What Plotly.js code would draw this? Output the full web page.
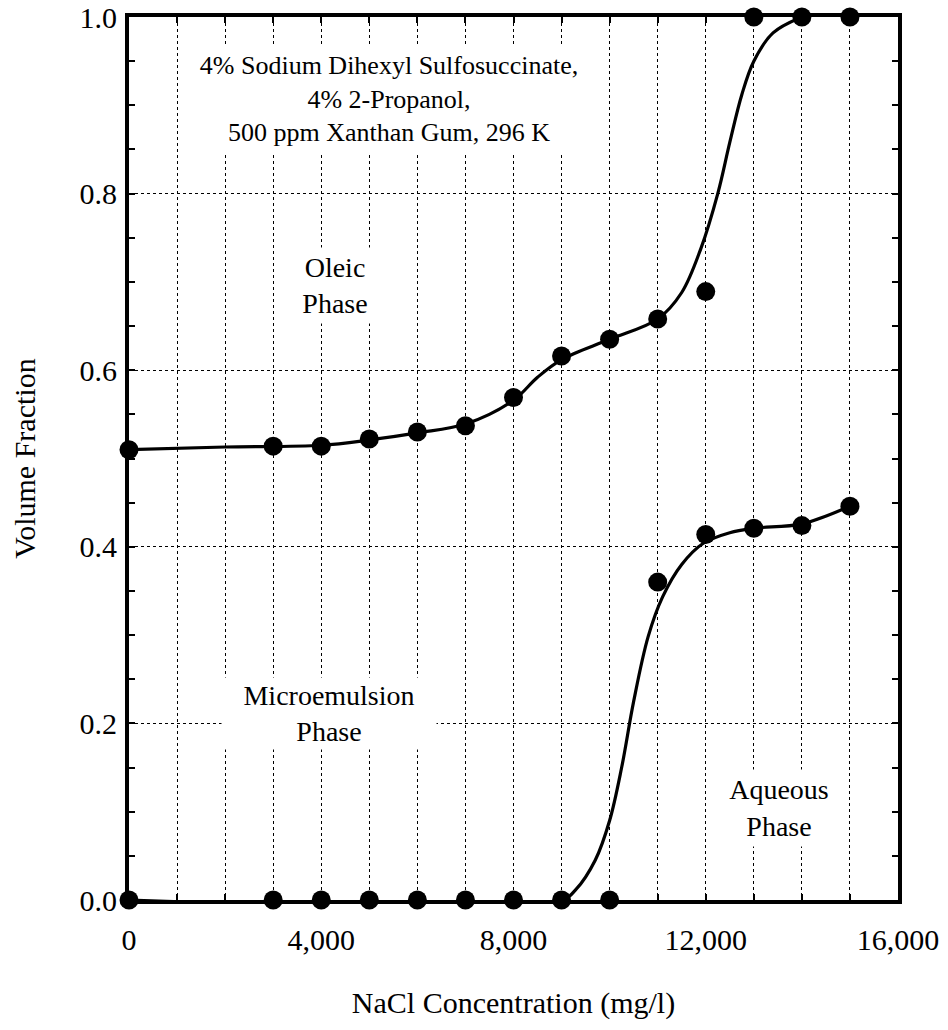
<!DOCTYPE html>
<html>
<head>
<meta charset="utf-8">
<script src="https://cdn.plot.ly/plotly-3.0.1.min.js"></script>
<style>html,body{margin:0;padding:0;background:#fff;}#chart{width:948px;height:1030px;}</style>
</head>
<body>
<div id="chart"></div>
<script>
// Measured points: oleic / microemulsion boundary
const oleicX = [0, 3000, 4000, 5000, 6000, 7000, 8000, 9000, 10000, 11000, 12000, 13000, 14000, 15000];
const oleicY = [0.510, 0.514, 0.514, 0.522, 0.530, 0.537, 0.569, 0.616, 0.635, 0.658, 0.689, 1.0, 1.0, 1.0];
// Measured points: aqueous / microemulsion boundary
const aqueousX = [0, 3000, 4000, 5000, 6000, 7000, 8000, 9000, 10000, 11000, 12000, 13000, 14000, 15000];
const aqueousY = [0, 0, 0, 0, 0, 0, 0, 0, 0, 0.36, 0.414, 0.421, 0.424, 0.446];
// Smooth curves
const oleicCurveX = [0, 2000, 4000, 5000, 6000, 7000, 8000, 8500, 9000, 10000, 11000, 11500, 11900, 12250, 12500, 12750, 13000, 13400, 14000];
const oleicCurveY = [0.510, 0.513, 0.515, 0.521, 0.529, 0.539, 0.566, 0.592, 0.612, 0.635, 0.658, 0.688, 0.738, 0.800, 0.858, 0.912, 0.950, 0.982, 1.0];
const aqueousCurveX = [0, 9000, 9300, 9700, 10000, 10250, 10500, 10800, 11100, 11500, 11950, 12500, 13000, 14000, 15000];
const aqueousCurveY = [0, 0, 0.012, 0.045, 0.090, 0.150, 0.225, 0.298, 0.343, 0.380, 0.404, 0.416, 0.421, 0.426, 0.446];

const xTickVals = [0, 4000, 8000, 12000, 16000];
const xTickText = ['0', '4,000', '8,000', '12,000', '16,000'];
const yTickVals = [0, 0.2, 0.4, 0.6, 0.8, 1.0];
const yTickText = ['0.0', '0.2', '0.4', '0.6', '0.8', '1.0'];

const FONT = 'Liberation Serif, Times New Roman, serif';

const traces = [
  {x: oleicCurveX, y: oleicCurveY, mode: 'lines', line: {color: '#000', width: 3.2, shape: 'spline', smoothing: 1}, hoverinfo: 'skip', showlegend: false},
  {x: aqueousCurveX, y: aqueousCurveY, mode: 'lines', line: {color: '#000', width: 3.2, shape: 'spline', smoothing: 1}, hoverinfo: 'skip', showlegend: false},
  {x: oleicX, y: oleicY, mode: 'markers', marker: {color: '#000', size: 19}, cliponaxis: false, showlegend: false},
  {x: aqueousX, y: aqueousY, mode: 'markers', marker: {color: '#000', size: 19}, cliponaxis: false, showlegend: false}
];

const layout = {
  width: 948, height: 1030,
  margin: {l: 129, r: 50, t: 17, b: 130},
  paper_bgcolor: '#fff', plot_bgcolor: '#fff',
  font: {family: FONT, color: '#000', size: 29},
  showlegend: false,
  xaxis: {
    range: [0, 16000], tickvals: xTickVals, ticktext: xTickText,
    showgrid: true, gridcolor: '#000', gridwidth: 1, griddash: 'dot', zeroline: false,
    showline: true, linewidth: 4, linecolor: '#000', mirror: 'allticks',
    ticks: 'inside', ticklen: 6, tickwidth: 2, tickcolor: '#000',
    tickfont: {family: FONT, size: 30, color: '#000'},
    ticklabelstandoff: 10,
    minor: {dtick: 1000, tick0: 0, showgrid: true, gridcolor: '#000', gridwidth: 1, griddash: 'dot', ticks: 'inside', ticklen: 6, tickwidth: 2, tickcolor: '#000'},
    title: {text: 'NaCl Concentration (mg/l)', font: {family: FONT, size: 30, color: '#000'}, standoff: 38}
  },
  yaxis: {
    range: [0, 1], tickvals: yTickVals, ticktext: yTickText,
    showgrid: true, gridcolor: '#000', gridwidth: 1, griddash: 'dot', zeroline: false,
    showline: true, linewidth: 4, linecolor: '#000', mirror: 'allticks',
    ticks: 'inside', ticklen: 6, tickwidth: 2, tickcolor: '#000',
    tickfont: {family: FONT, size: 30, color: '#000'},
    ticklabelstandoff: 2,
    minor: {dtick: 0.05, tick0: 0, showgrid: false, ticks: 'inside', ticklen: 6, tickwidth: 2, tickcolor: '#000'},
    title: {text: 'Volume Fraction', font: {family: FONT, size: 30, color: '#000'}, standoff: 36}
  },
  annotations: [
    {x: 5416, y: 0.907, xref: 'x', yref: 'y', showarrow: false,
     text: '4% Sodium Dihexyl Sulfosuccinate,<br>4% 2-Propanol,<br>500 ppm Xanthan Gum, 296 K',
     font: {family: FONT, size: 26, color: '#000'}, bgcolor: '#fff', width: 400, height: 108, borderpad: 0},
    {x: 4296, y: 0.696, xref: 'x', yref: 'y', showarrow: false, text: 'Oleic<br>Phase',
     font: {family: FONT, size: 28, color: '#000'}, bgcolor: '#fff', width: 96, height: 75, borderpad: 0},
    {x: 4171, y: 0.211, xref: 'x', yref: 'y', showarrow: false, text: 'Microemulsion<br>Phase',
     font: {family: FONT, size: 28, color: '#000'}, bgcolor: '#fff', width: 214, height: 71, borderpad: 0},
    {x: 13530, y: 0.104, xref: 'x', yref: 'y', showarrow: false, text: 'Aqueous<br>Phase',
     font: {family: FONT, size: 28, color: '#000'}, bgcolor: '#fff', width: 130, height: 76, borderpad: 0}
  ]
};

Plotly.newPlot('chart', traces, layout, {displayModeBar: false, staticPlot: true});
</script>
</body>
</html>
